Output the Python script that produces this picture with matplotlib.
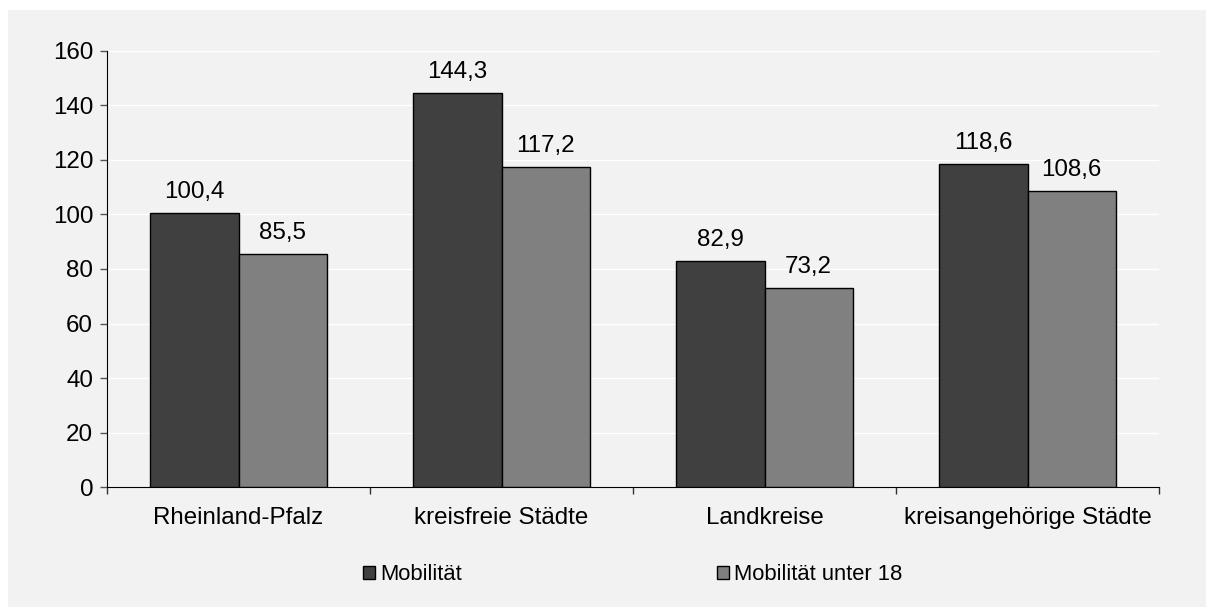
import numpy as np
import matplotlib
matplotlib.use("Agg")
import matplotlib.pyplot as plt
from matplotlib.ticker import MultipleLocator, FixedLocator, NullFormatter

plt.rcParams['font.family'] = ['Liberation Sans', 'DejaVu Sans']

categories = ["Rheinland-Pfalz", "kreisfreie Städte", "Landkreise", "kreisangehörige Städte"]
mobilitaet = [100.4, 144.3, 82.9, 118.6]
mobilitaet_u18 = [85.5, 117.2, 73.2, 108.6]
series_names = ["Mobilität", "Mobilität unter 18"]
colors = ["#404040", "#808080"]

bg = "#f2f2f2"
fs = 17.4

fig = plt.figure(figsize=(12.06, 6.07), dpi=100)
fig.patch.set_facecolor("white")
# grey panel behind the chart, leaving a thin white strip top and left
fig.patches.append(plt.Rectangle((8 / 1206, 0), 1, 1 - 10 / 607, transform=fig.transFigure,
                                 facecolor=bg, edgecolor="none", zorder=-10))

ax = fig.add_axes([107 / 1206, 1 - 487.3 / 607, (1159 - 107) / 1206, (487.3 - 50.6) / 607])
ax.set_facecolor(bg)

x = np.arange(len(categories))
w = 0.335
b1 = ax.bar(x - w / 2, mobilitaet, w, color=colors[0], edgecolor="black", linewidth=1.0,
            label=series_names[0], zorder=3)
b2 = ax.bar(x + w / 2, mobilitaet_u18, w, color=colors[1], edgecolor="black", linewidth=1.0,
            label=series_names[1], zorder=3)

for bars in (b1, b2):
    for rect in bars:
        h = rect.get_height()
        ax.annotate(f"{h:.1f}".replace(".", ","), (rect.get_x() + rect.get_width() / 2, h),
                    xytext=(0, 10.8), textcoords="offset points", ha="center", va="baseline",
                    fontsize=fs, color="black")

ax.set_xlim(-0.5, len(categories) - 0.5)
ax.set_ylim(0, 160)
ax.yaxis.set_major_locator(MultipleLocator(20))
ax.grid(axis="y", color="white", linewidth=1.0, zorder=0)

ax.set_xticks(x)
ax.set_xticklabels(categories, fontsize=fs)
ax.xaxis.set_minor_locator(FixedLocator(np.arange(-0.5, len(categories), 1.0)))
ax.xaxis.set_minor_formatter(NullFormatter())
ax.tick_params(axis="x", which="major", length=0, pad=14)
ax.tick_params(axis="x", which="minor", length=5, width=1, color="#333333", direction="out")
ax.tick_params(axis="y", length=5, width=1, color="#555555", labelsize=fs, pad=5)

for s in ("top", "right"):
    ax.spines[s].set_visible(False)
ax.spines["left"].set_color("black")
ax.spines["bottom"].set_color("black")

ax.legend(loc="center", bbox_to_anchor=(0.5245, 0.053), bbox_transform=fig.transFigure,
          ncol=2, frameon=False, fontsize=15.8, handlelength=0.55, handleheight=0.55,
          handletextpad=0.25, columnspacing=11.6, borderpad=0)

fig.savefig("out.png", dpi=100, facecolor=fig.get_facecolor())
